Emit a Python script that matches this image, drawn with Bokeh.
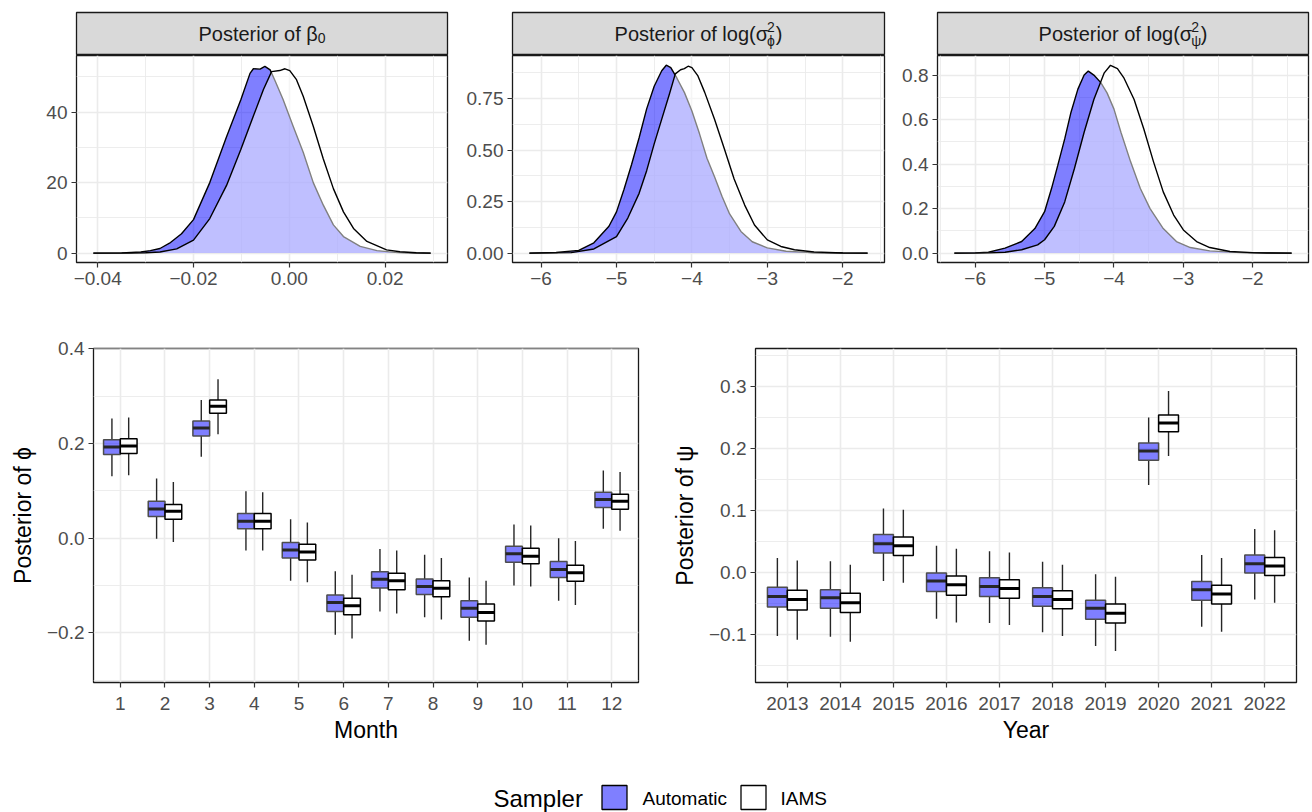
from bokeh.plotting import figure
from bokeh.layouts import column, row
from bokeh.models import Range1d, FactorRange, FixedTicker, CustomJSTickFormatter, ColumnDataSource
from bokeh.transform import dodge
from bokeh.core.properties import value
from bokeh.embed import file_html
from bokeh.resources import INLINE

FONT = "Liberation Sans"
SAMPLERS = ["Automatic", "IAMS"]
SAMPLER_FILL = ["#0000FF", "#FFFFFF"]

# ---------------- densities ----------------
BETA0_AUTO_X = [-0.0409, -0.035, -0.031, -0.029, -0.027, -0.025, -0.0225, -0.020, -0.0166, -0.0131, -0.0101,
                -0.0082, -0.0075, -0.0061, -0.0051, -0.0040, -0.0030, -0.0013, 0.0008, 0.0029, 0.0050, 0.0071,
                0.0092, 0.0113, 0.0148, 0.0183, 0.0220, 0.0260, 0.0295]
BETA0_AUTO_Y = [0, 0.05, 0.3, 0.7, 1.3, 2.8, 5.5, 9.5, 20, 33, 43.6, 51, 52.3, 52.2, 53, 52, 49, 43.6, 36, 28.6,
                20, 13.6, 8, 4.7, 1.9, 0.7, 0.2, 0.05, 0]
BETA0_IAMS_X = [-0.0409, -0.033, -0.030, -0.027, -0.0235, -0.020, -0.0166, -0.0131, -0.0101, -0.0075, -0.0054,
                -0.0037, -0.0020, -0.0009, 0.0001, 0.0015, 0.0029, 0.0050, 0.0071, 0.0092, 0.0113, 0.0134,
                0.0162, 0.0203, 0.0231, 0.0265, 0.0295]
BETA0_IAMS_Y = [0, 0.03, 0.08, 0.3, 1.2, 3.7, 9.8, 19.2, 29.5, 38.9, 46.4, 51.5, 51.8, 52.3, 51.8, 49.2, 44.5,
                36, 26.7, 18.3, 11.7, 7, 3.3, 0.9, 0.4, 0.1, 0]

SPHI_AUTO_X = [-6.155, -5.8, -5.5, -5.3, -5.1, -5.0, -4.9, -4.8, -4.7, -4.6, -4.5, -4.4, -4.34, -4.28, -4.2,
               -4.1, -4.0, -3.9, -3.8, -3.7, -3.6, -3.5, -3.35, -3.2, -3.0, -2.75, -2.4, -2.0, -1.67]
SPHI_AUTO_Y = [0, 0.003, 0.013, 0.05, 0.13, 0.2, 0.31, 0.43, 0.56, 0.70, 0.81, 0.885, 0.912, 0.9, 0.85, 0.78,
               0.69, 0.58, 0.46, 0.37, 0.275, 0.19, 0.105, 0.055, 0.025, 0.009, 0.002, 0.0005, 0]
SPHI_IAMS_X = [-6.155, -5.6, -5.3, -5.0, -4.85, -4.7, -4.6, -4.5, -4.4, -4.3, -4.22, -4.15, -4.1, -4.05, -4.0,
               -3.92, -3.83, -3.7, -3.57, -3.44, -3.3, -3.17, -3.0, -2.82, -2.64, -2.38, -2.0, -1.67]
SPHI_IAMS_Y = [0, 0.002, 0.02, 0.08, 0.17, 0.29, 0.40, 0.53, 0.65, 0.77, 0.87, 0.89, 0.895, 0.907, 0.9, 0.86,
               0.78, 0.65, 0.506, 0.36, 0.233, 0.136, 0.064, 0.032, 0.016, 0.005, 0.001, 0]

SPSI_AUTO_X = [-6.30, -6.0, -5.81, -5.57, -5.33, -5.14, -5.0, -4.90, -4.81, -4.71, -4.62, -4.52, -4.43, -4.37,
               -4.29, -4.19, -4.10, -4.0, -3.90, -3.76, -3.62, -3.48, -3.29, -3.10, -2.90, -2.62, -2.24, -1.8, -1.44]
SPSI_AUTO_Y = [0, 0.001, 0.004, 0.022, 0.052, 0.11, 0.186, 0.29, 0.394, 0.513, 0.632, 0.737, 0.80, 0.818, 0.80,
               0.766, 0.72, 0.647, 0.543, 0.41, 0.29, 0.20, 0.11, 0.052, 0.025, 0.01, 0.003, 0.0005, 0]
SPSI_IAMS_X = [-6.30, -5.8, -5.57, -5.33, -5.10, -5.0, -4.86, -4.71, -4.57, -4.43, -4.29, -4.14, -4.05, -3.95,
               -3.86, -3.71, -3.57, -3.43, -3.29, -3.14, -3.0, -2.81, -2.62, -2.33, -2.0, -1.44]
SPSI_IAMS_Y = [0, 0.001, 0.004, 0.015, 0.037, 0.06, 0.12, 0.23, 0.38, 0.543, 0.69, 0.81, 0.844, 0.829, 0.789,
               0.69, 0.558, 0.41, 0.275, 0.171, 0.104, 0.052, 0.025, 0.007, 0.002, 0]

# ---------------- tick labels ----------------
BETA0_XTICKS = [-0.04, -0.02, 0.0, 0.02]
BETA0_XMINOR = [-0.03, -0.01, 0.01, 0.03]
BETA0_YTICKS = [0, 20, 40]
BETA0_YMINOR = [10, 30, 50]
LOGS_XTICKS = [-6, -5, -4, -3, -2]
LOGS_XMINOR = [-6.5, -5.5, -4.5, -3.5, -2.5, -1.5]
SPHI_YTICKS = [0.0, 0.25, 0.5, 0.75]
SPHI_YMINOR = [0.125, 0.375, 0.625, 0.875]
SPSI_YTICKS = [0.0, 0.2, 0.4, 0.6, 0.8]
SPSI_YMINOR = [0.1, 0.3, 0.5, 0.7]
PHI_YTICKS = [-0.2, 0.0, 0.2, 0.4]
PHI_YMINOR = [-0.3, -0.1, 0.1, 0.3]
PSI_YTICKS = [-0.1, 0.0, 0.1, 0.2, 0.3]
PSI_YMINOR = [-0.15, -0.05, 0.05, 0.15, 0.25, 0.35]

# ---------------- box plots: phi by month ----------------
MONTHS = ["1", "2", "3", "4", "5", "6", "7", "8", "9", "10", "11", "12"]
PHI_AUTO_LOW = [0.131, -0.001, 0.172, -0.026, -0.090, -0.204, -0.155, -0.167, -0.217, -0.100, -0.132, 0.020]
PHI_AUTO_Q1 = [0.177, 0.046, 0.216, 0.020, -0.042, -0.155, -0.105, -0.119, -0.167, -0.051, -0.083, 0.065]
PHI_AUTO_MED = [0.193, 0.062, 0.233, 0.036, -0.025, -0.136, -0.087, -0.102, -0.148, -0.033, -0.066, 0.082]
PHI_AUTO_Q3 = [0.208, 0.078, 0.248, 0.052, -0.009, -0.120, -0.071, -0.086, -0.132, -0.017, -0.049, 0.097]
PHI_AUTO_HIGH = [0.253, 0.126, 0.292, 0.099, 0.040, -0.070, -0.023, -0.035, -0.083, 0.029, 0.000, 0.143]
PHI_IAMS_LOW = [0.133, -0.008, 0.220, -0.026, -0.093, -0.212, -0.159, -0.172, -0.225, -0.102, -0.141, 0.016]
PHI_IAMS_Q1 = [0.179, 0.040, 0.264, 0.020, -0.046, -0.162, -0.109, -0.124, -0.175, -0.054, -0.091, 0.061]
PHI_IAMS_MED = [0.195, 0.057, 0.279, 0.036, -0.029, -0.143, -0.090, -0.106, -0.157, -0.038, -0.073, 0.078]
PHI_IAMS_Q3 = [0.210, 0.071, 0.292, 0.052, -0.013, -0.127, -0.074, -0.090, -0.139, -0.021, -0.057, 0.093]
PHI_IAMS_HIGH = [0.255, 0.119, 0.336, 0.097, 0.033, -0.077, -0.026, -0.042, -0.090, 0.027, -0.006, 0.140]

# ---------------- box plots: psi by year ----------------
YEARS = ["2013", "2014", "2015", "2016", "2017", "2018", "2019", "2020", "2021", "2022"]
PSI_AUTO_LOW = [-0.103, -0.104, -0.014, -0.075, -0.082, -0.097, -0.119, 0.141, -0.088, -0.044]
PSI_AUTO_Q1 = [-0.056, -0.058, 0.031, -0.031, -0.039, -0.055, -0.076, 0.181, -0.045, -0.001]
PSI_AUTO_MED = [-0.039, -0.041, 0.046, -0.014, -0.023, -0.039, -0.058, 0.196, -0.028, 0.014]
PSI_AUTO_Q3 = [-0.024, -0.028, 0.061, -0.001, -0.009, -0.025, -0.045, 0.209, -0.015, 0.028]
PSI_AUTO_HIGH = [0.023, 0.018, 0.103, 0.043, 0.034, 0.017, -0.003, 0.250, 0.028, 0.070]
PSI_IAMS_LOW = [-0.109, -0.112, -0.017, -0.081, -0.085, -0.103, -0.127, 0.188, -0.096, -0.049]
PSI_IAMS_Q1 = [-0.061, -0.065, 0.027, -0.037, -0.042, -0.059, -0.082, 0.227, -0.051, -0.005]
PSI_IAMS_MED = [-0.044, -0.049, 0.043, -0.020, -0.026, -0.044, -0.066, 0.241, -0.035, 0.010]
PSI_IAMS_Q3 = [-0.029, -0.034, 0.057, -0.006, -0.012, -0.030, -0.051, 0.254, -0.021, 0.024]
PSI_IAMS_HIGH = [0.019, 0.012, 0.101, 0.038, 0.032, 0.012, -0.007, 0.293, 0.023, 0.068]

GRID = "#EBEBEB"
TICK_COL = "#333333"
LABEL_COL = "#4D4D4D"
BORDER = "#1A1A1A"


def fmt(dec):
    return CustomJSTickFormatter(code="return tick.toFixed(%d).replace('-', '\u2212');" % dec)


def style(p, xlabel=None, ylabel=None):
    p.background_fill_color = "white"
    p.border_fill_color = "white"
    p.outline_line_color = BORDER
    p.outline_line_width = 1.3
    for ax in (p.xaxis[0], p.yaxis[0]):
        ax.axis_line_color = None
        ax.major_tick_line_color = TICK_COL
        ax.major_tick_line_width = 1.2
        ax.major_tick_out = 5
        ax.major_tick_in = 0
        ax.minor_tick_line_color = None
        ax.major_label_text_font = FONT
        ax.major_label_text_font_size = "19px"
        ax.major_label_text_color = LABEL_COL
        ax.major_label_standoff = 4
        ax.axis_label_text_font = FONT
        ax.axis_label_text_font_size = "23px"
        ax.axis_label_text_font_style = "normal"
        ax.axis_label_text_color = "black"
    if xlabel:
        p.xaxis.axis_label = xlabel
        p.xaxis.major_label_standoff = 9
        p.xaxis.axis_label_standoff = 4
    if ylabel:
        p.yaxis.axis_label = ylabel
        p.yaxis.axis_label_standoff = 8
    for g in (p.xgrid[0], p.ygrid[0]):
        g.grid_line_color = GRID
        g.grid_line_width = 1.6
        g.minor_grid_line_color = GRID
        g.minor_grid_line_width = 0.9


CHAR_W = {'P': .667, 'o': .556, 's': .5, 't': .278, 'e': .556, 'r': .333, 'i': .222, ' ': .278, 'f': .278,
          'l': .222, 'g': .556, '(': .333, ')': .333, 'β': .574, 'σ': .571, '0': .556, '2': .556,
          'ϕ': .62, 'ψ': .68}


def tw(s, size):
    return sum(CHAR_W.get(c, 0.6) for c in s) * size


def strip(width, bl, br, pieces):
    fw = width - bl - br
    s = figure(width=width, height=55, x_range=Range1d(0, fw), y_range=Range1d(43, 0),
               x_axis_type=None, y_axis_type=None, output_backend="svg", toolbar_location=None,
               min_border_left=bl, min_border_right=br, min_border_top=12, min_border_bottom=0)
    s.background_fill_color = "#D9D9D9"
    s.border_fill_color = "white"
    s.outline_line_color = BORDER
    s.outline_line_width = 1.3
    s.grid.visible = False
    widths = [max(tw(t, sz) for t, sz, dy in grp) for grp in pieces]
    x = fw / 2 - sum(widths) / 2
    for grp, w in zip(pieces, widths):
        for t, sz, dy in grp:
            s.text(x=[x], y=[21.5 + dy], text=[t], text_font=value(FONT), text_font_size=value("%dpx" % sz),
                   text_align="left", text_baseline="middle", text_color="#1A1A1A")
        x += w
    return s


def density_fig(width, bl, br, xr, yr, xt, xm, xd, yt, ym, yd, curves):
    p = figure(width=width, height=253, x_range=Range1d(*xr), y_range=Range1d(*yr),
               output_backend="svg", toolbar_location=None,
               min_border_left=bl, min_border_right=br, min_border_top=0, min_border_bottom=46)
    style(p)
    p.xaxis.ticker = FixedTicker(ticks=xt, minor_ticks=xm)
    p.yaxis.ticker = FixedTicker(ticks=yt, minor_ticks=ym)
    p.xaxis.formatter = fmt(xd)
    p.yaxis.formatter = fmt(yd)
    for (cx, cy), fill in zip(curves, SAMPLER_FILL):
        src = ColumnDataSource(dict(x=cx, y=cy))
        p.varea(x="x", y1=0, y2="y", source=src, fill_color=fill, fill_alpha=0.5)
        p.line(x="x", y="y", source=src, line_color="black", line_width=1.4)
    return p


def box_fig(width, bl, br, cats, yr, yt, ym, xlabel, ylabel, stats):
    pad = 0.2 / len(cats)
    p = figure(width=width, height=460,
               x_range=FactorRange(factors=cats, range_padding=pad, range_padding_units="percent"),
               y_range=Range1d(*yr), output_backend="svg", toolbar_location=None,
               min_border_left=bl, min_border_right=br, min_border_top=40, min_border_bottom=86)
    style(p, xlabel, ylabel)
    p.yaxis.ticker = FixedTicker(ticks=yt, minor_ticks=ym)
    p.yaxis.formatter = fmt(1)
    p.xgrid.minor_grid_line_color = None
    half = 0.1875
    line_cols = ["#4D4D4D", "#000000"]
    med_cols = ["#262626", "#000000"]
    for (low, q1, med, q3, high), fill, lc, mc, off in zip(stats, SAMPLER_FILL, line_cols, med_cols,
                                                        [-half, half]):
        src = ColumnDataSource(dict(cat=cats, low=low, q1=q1, med=med, q3=q3, high=high))
        xc = dodge("cat", off, range=p.x_range)
        p.segment(x0=xc, x1=xc, y0="q3", y1="high", source=src, line_color="#262626", line_width=1.4)
        p.segment(x0=xc, x1=xc, y0="q1", y1="low", source=src, line_color="#262626", line_width=1.4)
        p.vbar(x=xc, width=2 * half, top="q3", bottom="q1", source=src, fill_color=fill, fill_alpha=0.5,
               line_color=lc, line_width=1.5)
        p.segment(x0=dodge("cat", off - half, range=p.x_range), x1=dodge("cat", off + half, range=p.x_range),
                  y0="med", y1="med", source=src, line_color=mc, line_width=3)
    return p


# ---------------- top row ----------------
s1 = strip(454, 76, 7, [[("Posterior of β", 20, 0)], [("0", 14, 4)]])
d1 = density_fig(454, 76, 7, (-0.04442, 0.03302), (-2.67, 56.07), BETA0_XTICKS, BETA0_XMINOR, 2,
                 BETA0_YTICKS, BETA0_YMINOR, 0,
                 [(BETA0_AUTO_X, BETA0_AUTO_Y), (BETA0_IAMS_X, BETA0_IAMS_Y)])
s2 = strip(434, 58, 4, [[("Posterior of log(σ", 20, 0)], [("2", 14, -7), ("ϕ", 14, 7)], [(")", 20, 0)]])
d2 = density_fig(434, 58, 4, (-6.379, -1.446), (-0.0457, 0.959), LOGS_XTICKS, LOGS_XMINOR, 0,
                 SPHI_YTICKS, SPHI_YMINOR, 2,
                 [(SPHI_AUTO_X, SPHI_AUTO_Y), (SPHI_IAMS_X, SPHI_IAMS_Y)])
s3 = strip(424, 49, 4, [[("Posterior of log(σ", 20, 0)], [("2", 14, -7), ("ψ", 14, 7)], [(")", 20, 0)]])
d3 = density_fig(424, 49, 4, (-6.543, -1.197), (-0.0423, 0.888), LOGS_XTICKS, LOGS_XMINOR, 0,
                 SPSI_YTICKS, SPSI_YMINOR, 1,
                 [(SPSI_AUTO_X, SPSI_AUTO_Y), (SPSI_IAMS_X, SPSI_IAMS_Y)])

# ---------------- bottom row ----------------
b1 = box_fig(668, 93, 30, MONTHS, (-0.305, 0.401), PHI_YTICKS, PHI_YMINOR, "Month", "Posterior of ϕ",
             [(PHI_AUTO_LOW, PHI_AUTO_Q1, PHI_AUTO_MED, PHI_AUTO_Q3, PHI_AUTO_HIGH),
              (PHI_IAMS_LOW, PHI_IAMS_Q1, PHI_IAMS_MED, PHI_IAMS_Q3, PHI_IAMS_HIGH)])
b2 = box_fig(644, 85, 16, YEARS, (-0.178, 0.3615), PSI_YTICKS, PSI_YMINOR, "Year", "Posterior of ψ",
             [(PSI_AUTO_LOW, PSI_AUTO_Q1, PSI_AUTO_MED, PSI_AUTO_Q3, PSI_AUTO_HIGH),
              (PSI_IAMS_LOW, PSI_IAMS_Q1, PSI_IAMS_MED, PSI_IAMS_Q3, PSI_IAMS_HIGH)])

# ---------------- legend ----------------
leg = figure(width=1312, height=44, x_range=Range1d(0, 1312), y_range=Range1d(44, 0),
             x_axis_type=None, y_axis_type=None, output_backend="svg", toolbar_location=None, min_border=0)
leg.outline_line_color = None
leg.grid.visible = False
leg.text(x=[493], y=[30], text=["Sampler"], text_font=value(FONT), text_font_size=value("24px"),
         text_align="left", text_baseline="middle", text_color="black")
leg.rect(x=[614, 753], y=[29, 29], width=25, height=24, fill_color=SAMPLER_FILL, fill_alpha=0.5,
         line_color="black", line_width=1.3)
leg.text(x=[642, 780], y=[30, 30], text=SAMPLERS, text_font=value(FONT), text_font_size=value("19px"),
         text_align="left", text_baseline="middle", text_color="black")

layout = column(row(column(s1, d1), column(s2, d2), column(s3, d3)), row(b1, b2), leg)

with open("out.html", "w", encoding="utf-8") as f:
    f.write(file_html(layout, INLINE))
